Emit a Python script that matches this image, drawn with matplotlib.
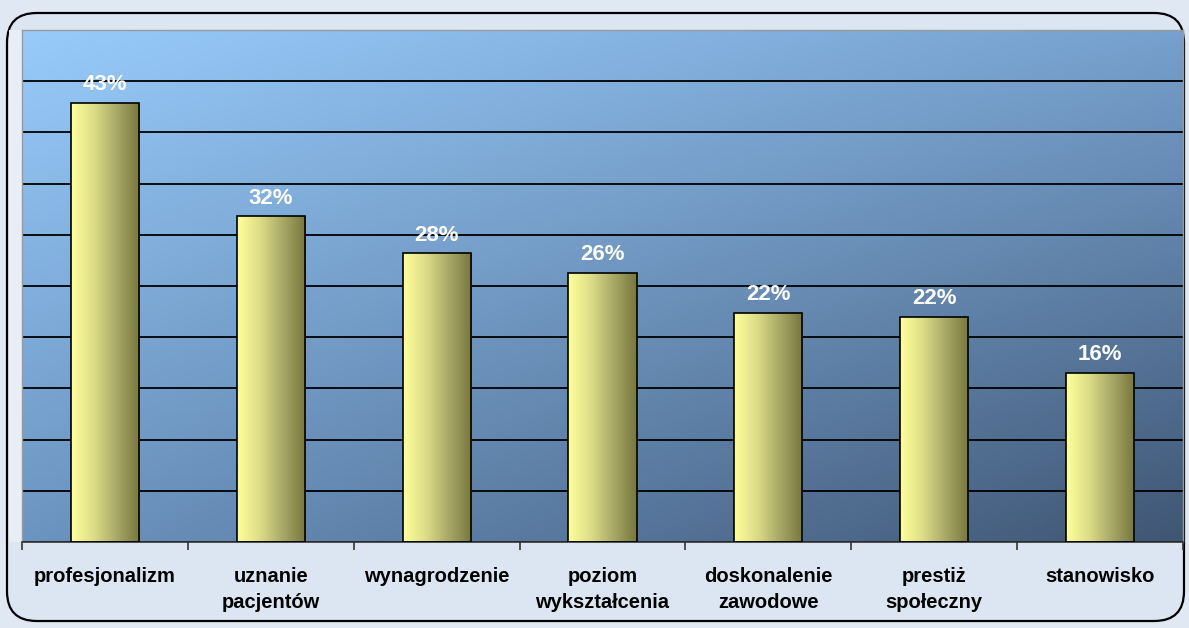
import numpy as np
import matplotlib
matplotlib.use("Agg")
import matplotlib.pyplot as plt
from matplotlib.patches import FancyBboxPatch
from matplotlib.colors import LinearSegmentedColormap

categories = ["profesjonalizm", "uznanie\npacjentów", "wynagrodzenie", "poziom\nwykształcenia",
              "doskonalenie\nzawodowe", "prestiż\nspołeczny", "stanowisko"]
values = [42.9, 31.8, 28.2, 26.3, 22.4, 22.0, 16.5]
labels = ["43%", "32%", "28%", "26%", "22%", "22%", "16%"]

plt.rcParams['font.family'] = ['Liberation Sans', 'DejaVu Sans']

fig = plt.figure(figsize=(11.89, 6.28), dpi=100)
fig.patch.set_facecolor("#dfe8f3")

# rounded frame around everything (behind the axes)
frame = FancyBboxPatch((7/1189, 7/628), 1177/1189, 608/628, boxstyle="round,pad=0,rounding_size=0.025",
                       transform=fig.transFigure, facecolor="#dce6f2", edgecolor="black", lw=1.6,
                       mutation_aspect=1189/628, zorder=-5)
fig.patches.append(frame)
# pale strip left of the plot area
fig.patches.append(plt.Rectangle((9/1189, 86/628), 13/1189, 512/628, transform=fig.transFigure,
                                 facecolor="#e9eef5", edgecolor="none", zorder=-4))

ax = fig.add_axes([22/1189, 86/628, 1161/1189, 512/628])
ax.set_zorder(2)

# diagonal gradient for the plot area (row 0 = top)
tl = np.array([152, 203, 250]) / 255
tr = np.array([118, 160, 205]) / 255
bl = np.array([108, 148, 192]) / 255
br = np.array([64, 86, 116]) / 255
u = np.linspace(0, 1, 200)[None, :, None]
v = np.linspace(0, 1, 120)[:, None, None]
bg = (1 - v) * ((1 - u) * tl + u * tr) + v * ((1 - u) * bl + u * br)
ax.imshow(bg, extent=[-0.5, len(categories) - 0.5, 0, 50], origin="upper", aspect="auto", zorder=0)

ax.set_yticks(np.arange(0, 51, 5))
ax.yaxis.grid(True, color="black", lw=1.3, zorder=1)
ax.tick_params(axis="y", left=False, labelleft=False)

x = np.arange(len(categories))
bars = ax.bar(x, values, width=0.41, facecolor="none", edgecolor="black", lw=1.2, zorder=3)
bar_cmap = LinearSegmentedColormap.from_list("bar", ["#ffff9c", "#dcdc88", "#a8a866", "#77773f"])
grad = np.linspace(0, 1, 100)[None, :]
for b in bars:
    x0, y0, w, h = b.get_x(), b.get_y(), b.get_width(), b.get_height()
    im = ax.imshow(grad, cmap=bar_cmap, extent=[x0, x0 + w, y0, y0 + h], aspect="auto", zorder=2)
    im.set_clip_path(b)
ax.set_xlim(-0.5, len(categories) - 0.5)
ax.set_ylim(0, 50)

for xi, val, lab in zip(x, values, labels):
    ax.text(xi, val + 0.75, lab, ha="center", va="bottom", color="white", fontsize=16, fontweight="bold", zorder=4)

ax.set_xticks(x)
ax.set_xticklabels(categories, fontsize=14.5, fontweight="bold", linespacing=1.5)
ax.set_xticks(np.arange(-0.5, len(categories)), minor=True)
ax.tick_params(axis="x", which="major", length=0, pad=18)
ax.tick_params(axis="x", which="minor", length=6, color="#333333", width=1.2)

for side in ["top", "right", "left"]:
    ax.spines[side].set_color("#9a9a9a")
    ax.spines[side].set_linewidth(1.0)
ax.spines["bottom"].set_color("#333333")
ax.spines["bottom"].set_linewidth(1.2)

fig.savefig("out.png", dpi=100, facecolor=fig.get_facecolor())
